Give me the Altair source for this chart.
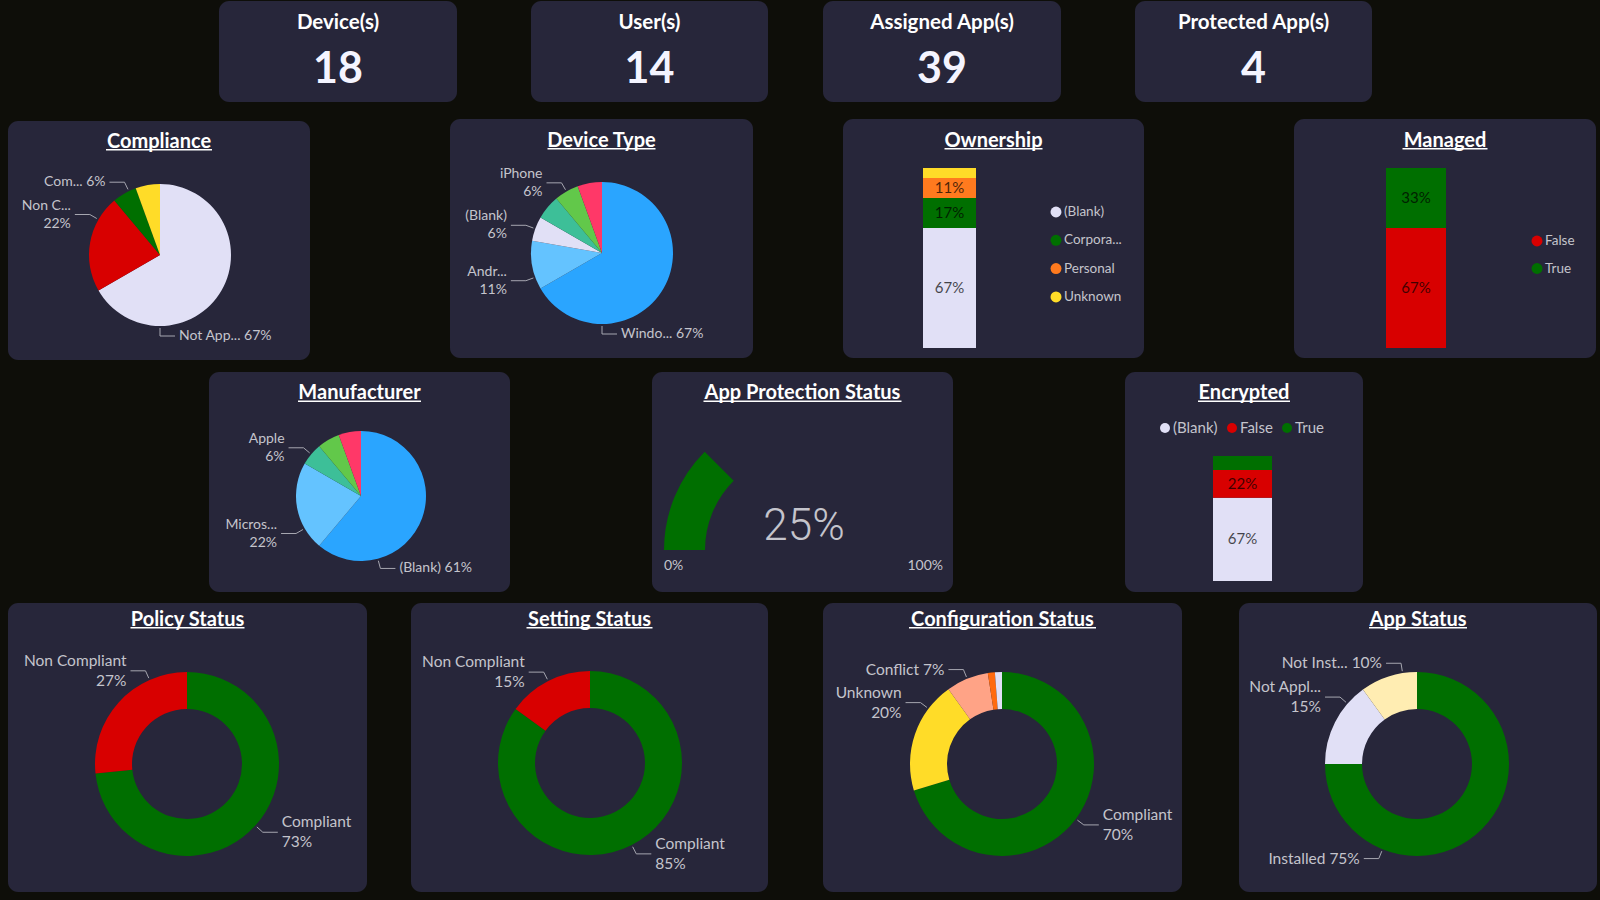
import math
import altair as alt
import pandas as pd

# ---------------------------------------------------------------- values
card_titles = ["Device(s)", "User(s)", "Assigned App(s)", "Protected App(s)"]
card_values = [18, 14, 39, 4]

compliance_states = ["Not Applicable", "Non Compliant", "Compliant", "In Grace Period"]
compliance_counts = [12, 4, 1, 1]
compliance_names = ["Not App...", "Non C...", "Com...", None]

device_types = ["Windows", "Android", "(Blank)", "iPad", "iPhone", "macOS"]
device_type_counts = [12, 2, 1, 1, 1, 1]
device_type_names = ["Windo...", "Andr...", "(Blank)", None, "iPhone", None]

manufacturers = ["(Blank)", "Microsoft", "Apple", "Samsung", "Google"]
manufacturer_counts = [11, 4, 1, 1, 1]
manufacturer_names = ["(Blank)", "Micros...", "Apple", None, None]

ownership_types = ["(Blank)", "Corporate", "Personal", "Unknown"]
ownership_counts = [12, 3, 2, 1]
ownership_names = ["(Blank)", "Corpora...", "Personal", "Unknown"]

managed_states = ["False", "True"]
managed_counts = [12, 6]

encrypted_states = ["(Blank)", "False", "True"]
encrypted_counts = [12, 4, 2]

app_protection_pct = 25

policy_states = ["Compliant", "Non Compliant"]
policy_counts = [11, 4]
policy_names = ["Compliant", "Non Compliant"]

setting_states = ["Compliant", "Non Compliant"]
setting_counts = [17, 3]
setting_names = ["Compliant", "Non Compliant"]

config_states = ["Compliant", "Unknown", "Conflict", "Error", "Not Applicable"]
config_counts = [57, 16, 6, 1, 1]
config_names = ["Compliant", "Unknown", "Conflict", None, None]

app_states = ["Installed", "Not Applicable", "Not Installed"]
app_counts = [15, 3, 2]
app_names = ["Installed", "Not Appl...", "Not Inst..."]

# ---------------------------------------------------------------- styling
FONT = "Lato"
BG = "#0e0e09"
PANEL = "#27263a"
WHITE = "#ffffff"
SOFT = "#c4c4cc"
LEADER = "#a6a6b0"

LAVENDER = "#e1e0f6"
RED = "#d80000"
GREEN = "#006f00"
YELLOW = "#ffdc28"
ORANGE = "#ff7a1e"
BLUE = "#2aa5ff"
LIGHT_BLUE = "#64c3ff"
TEAL = "#3dbf98"
LIGHT_GREEN = "#62c84a"
PINK = "#ff3868"
SALMON = "#ffa386"
DEEP_ORANGE = "#ff6a10"
CREAM = "#ffedb2"

compliance_colors = [LAVENDER, RED, GREEN, YELLOW]
device_type_colors = [BLUE, LIGHT_BLUE, LAVENDER, TEAL, LIGHT_GREEN, PINK]
manufacturer_colors = [BLUE, LIGHT_BLUE, TEAL, LIGHT_GREEN, PINK]
ownership_colors = [LAVENDER, GREEN, ORANGE, YELLOW]
managed_colors = [RED, GREEN]
encrypted_colors = [LAVENDER, RED, GREEN]
status_colors = [GREEN, RED]
config_colors = [GREEN, YELLOW, SALMON, DEEP_ORANGE, LAVENDER]
app_colors = [GREEN, LAVENDER, CREAM]

# ---------------------------------------------------------------- layout (canvas pixels)
card_boxes = [(219, 1, 457, 102), (531, 1, 768, 102), (823, 1, 1061, 102), (1135, 1, 1372, 102)]

panel_specs = [
    # title, box, title baseline, underline width
    ("Compliance", (8, 121, 310, 360), 147.5, 106),
    ("Device Type", (450, 119, 753, 358), 146.5, 108),
    ("Ownership", (843, 119, 1144, 358), 146.5, 98),
    ("Managed", (1294, 119, 1596, 358), 146.5, 85),
    ("Manufacturer", (209, 372, 510, 592), 399, 123),
    ("App Protection Status", (652, 372, 953, 592), 399, 198),
    ("Encrypted", (1125, 372, 1363, 592), 399, 92),
    ("Policy Status", (8, 603, 367, 892), 625.5, 114),
    ("Setting Status", (411, 603, 768, 892), 625.5, 126),
    ("Configuration Status", (823, 603, 1182, 892), 625.5, 187),
    ("App Status", (1239, 603, 1597, 892), 625.5, 98),
]

PIE_LABEL = dict(size=14, line=18)
DONUT_LABEL = dict(size=15.5, line=20)

XS = alt.Scale(domain=[0, 1600], range=[0, 1600], nice=False, zero=False)
YS = alt.Scale(domain=[0, 900], range=[0, 900], nice=False, zero=False)


def X(f):
    return alt.X(f"{f}:Q", scale=XS, axis=None)


def Y(f):
    return alt.Y(f"{f}:Q", scale=YS, axis=None)


# ---------------------------------------------------------------- panels and headings
panel_rows = [dict(x0=b[0], y0=b[1], x1=b[2], y1=b[3]) for b in card_boxes]
panel_rows += [dict(x0=b[0], y0=b[1], x1=b[2], y1=b[3]) for _, b, _, _ in panel_specs]
panels = alt.Chart(pd.DataFrame(panel_rows)).mark_rect(cornerRadius=10, color=PANEL).encode(
    x=X("x0"), x2=alt.X2("x1:Q"), y=Y("y0"), y2=alt.Y2("y1:Q"))

card_df = pd.DataFrame({
    "title": card_titles,
    "value": card_values,
    "cx": [(b[0] + b[2]) / 2 for b in card_boxes],
    "ty": 29,
    "vy": 82.5,
})
card_title = alt.Chart(card_df).mark_text(
    font=FONT, fontSize=20.5, fontWeight="bold", color=WHITE, align="center", baseline="alphabetic"
).encode(x=X("cx"), y=Y("ty"), text="title:N")
card_value = alt.Chart(card_df).mark_text(
    font=FONT, fontSize=43, fontWeight="bold", color="#f4f4ff", align="center", baseline="alphabetic"
).encode(x=X("cx"), y=Y("vy"), text="value:Q")

title_df = pd.DataFrame([
    dict(title=t, cx=(b[0] + b[2]) / 2, y=base, ux0=(b[0] + b[2]) / 2 - w / 2,
         ux1=(b[0] + b[2]) / 2 + w / 2, uy=base + 2.2)
    for t, b, base, w in panel_specs
])
titles = alt.Chart(title_df).mark_text(
    font=FONT, fontSize=20, fontWeight="bold", color=WHITE, align="center", baseline="alphabetic"
).encode(x=X("cx"), y=Y("y"), text="title:N")
underlines = alt.Chart(title_df).mark_rule(color=WHITE, strokeWidth=1.6).encode(
    x=X("ux0"), x2=alt.X2("ux1:Q"), y=Y("uy"))

# ---------------------------------------------------------------- pies and donuts
arc_layers = []
leader_rows = []
label_rows = []


def add_pie(states, counts, names, colors, cx, cy, R, r, style, wrap, angles):
    total = sum(counts)
    rows = []
    cum = 0
    for i, (s, v, col) in enumerate(zip(states, counts, colors)):
        t0 = cum / total
        cum += v
        t1 = cum / total
        rows.append(dict(state=s, value=v, cx=cx, cy=cy, t0=t0, t1=t1, color=col))
        name = names[i]
        if name is None:
            continue
        pct = f"{round(100 * v / total)}%"
        a = math.radians(angles.get(s, 180 * (t0 + t1)))
        sx, sy = math.sin(a), -math.cos(a)
        side = 1 if sx > -1e-9 else -1
        p0 = (cx + (R + 2) * sx, cy + (R + 2) * sy)
        p1 = (cx + (R + 10) * sx, cy + (R + 10) * sy)
        p2 = (p1[0] + 15 * side, p1[1])
        leader_rows.append(dict(x0=p0[0], y0=p0[1], x1=p1[0], y1=p1[1]))
        leader_rows.append(dict(x0=p1[0], y0=p1[1], x1=p2[0], y1=p2[1]))
        tx = p2[0] + 4 * side
        align = "left" if side > 0 else "right"
        if s in wrap:
            lines = [(name, p1[1] - style["line"] / 2), (pct, p1[1] + style["line"] / 2)]
        else:
            lines = [(f"{name} {pct}", p1[1])]
        for txt, ty in lines:
            label_rows.append(dict(x=tx, y=ty, text=txt, size=style["size"], align=align))
    arc_layers.append(
        alt.Chart(pd.DataFrame(rows)).mark_arc(outerRadius=R, innerRadius=r).encode(
            x=X("cx"), y=Y("cy"),
            theta=alt.Theta("t0:Q", stack=None, scale=alt.Scale(domain=[0, 1], range=[0, 2 * math.pi])),
            theta2=alt.Theta2("t1:Q"),
            color=alt.Color("color:N", scale=None),
        )
    )


add_pie(compliance_states, compliance_counts, compliance_names, compliance_colors,
        160, 255, 71, 0, PIE_LABEL, {"Non Compliant"},
        {"Not Applicable": 180, "Non Compliant": 300, "Compliant": 334})
add_pie(device_types, device_type_counts, device_type_names, device_type_colors,
        602, 253, 71, 0, PIE_LABEL, {"Android", "(Blank)", "iPhone"},
        {"Windows": 180, "Android": 250})
add_pie(manufacturers, manufacturer_counts, manufacturer_names, manufacturer_colors,
        361, 496, 65, 0, PIE_LABEL, {"Microsoft", "Apple"},
        {"(Blank)": 165, "Microsoft": 240})
add_pie(policy_states, policy_counts, policy_names, status_colors,
        187, 764, 92, 55, DONUT_LABEL, {"Compliant", "Non Compliant"},
        {"Non Compliant": 336})
add_pie(setting_states, setting_counts, setting_names, status_colors,
        590, 763, 92, 55, DONUT_LABEL, {"Compliant", "Non Compliant"}, {})
add_pie(config_states, config_counts, config_names, config_colors,
        1002, 764, 92, 55, DONUT_LABEL, {"Compliant", "Unknown"},
        {"Unknown": 307})
add_pie(app_states, app_counts, app_names, app_colors,
        1417, 764, 92, 55, DONUT_LABEL, {"Not Applicable"},
        {"Installed": 202, "Not Applicable": 311, "Not Installed": 351})

leaders = alt.Chart(pd.DataFrame(leader_rows)).mark_rule(color=LEADER, strokeWidth=1).encode(
    x=X("x0"), y=Y("y0"), x2=alt.X2("x1:Q"), y2=alt.Y2("y1:Q"))

label_df = pd.DataFrame(label_rows)
label_layers = [
    alt.Chart(label_df[label_df["align"] == al]).mark_text(
        font=FONT, color=SOFT, align=al, baseline="middle"
    ).encode(x=X("x"), y=Y("y"), text="text:N", size=alt.Size("size:Q", scale=None))
    for al in ["left", "right"]
]

# ---------------------------------------------------------------- gauge
gauge_df = pd.DataFrame([dict(cx=803, cy=550, t0=0, t1=app_protection_pct, color=GREEN)])
gauge = alt.Chart(gauge_df).mark_arc(outerRadius=139, innerRadius=98).encode(
    x=X("cx"), y=Y("cy"),
    theta=alt.Theta("t0:Q", stack=None,
                    scale=alt.Scale(domain=[0, 100], range=[1.5 * math.pi, 2.5 * math.pi])),
    theta2=alt.Theta2("t1:Q"),
    color=alt.Color("color:N", scale=None),
)
gauge_value = alt.Chart(pd.DataFrame([dict(x=804, y=540, text=f"{app_protection_pct}%")])).mark_text(
    font="Roboto", fontWeight=300, fontSize=44, color=SOFT, align="center", baseline="alphabetic"
).encode(x=X("x"), y=Y("y"), text="text:N")
gauge_ends = alt.Chart(pd.DataFrame([dict(x=664, y=570, text="0%")])).mark_text(
    font=FONT, fontSize=14, color=SOFT, align="left", baseline="alphabetic").encode(
    x=X("x"), y=Y("y"), text="text:N")
gauge_max = alt.Chart(pd.DataFrame([dict(x=943, y=570, text="100%")])).mark_text(
    font=FONT, fontSize=14, color=SOFT, align="right", baseline="alphabetic").encode(
    x=X("x"), y=Y("y"), text="text:N")

# ---------------------------------------------------------------- stacked columns
bar_rows = []
bar_label_rows = []


def add_bar(counts, colors, x0, x1, top, bottom):
    total = sum(counts)
    h = bottom - top
    cum = 0
    for v, col in zip(counts, colors):
        yb = bottom - cum / total * h
        cum += v
        yt = bottom - cum / total * h
        bar_rows.append(dict(x0=x0, x1=x1, y0=yt, y1=yb, color=col))
        if yb - yt >= 16:
            bar_label_rows.append(dict(x=(x0 + x1) / 2, y=(yt + yb) / 2, text=f"{round(100 * v / total)}%"))


add_bar(ownership_counts, ownership_colors, 923, 976, 168, 348)
add_bar(managed_counts, managed_colors, 1386, 1446, 168, 348)
add_bar(encrypted_counts, encrypted_colors, 1213, 1272, 456, 581)

bars = alt.Chart(pd.DataFrame(bar_rows)).mark_rect().encode(
    x=X("x0"), x2=alt.X2("x1:Q"), y=Y("y0"), y2=alt.Y2("y1:Q"), color=alt.Color("color:N", scale=None))
bar_labels = alt.Chart(pd.DataFrame(bar_label_rows)).mark_text(
    font=FONT, fontSize=15, color="#000000", opacity=0.7, align="center", baseline="middle"
).encode(x=X("x"), y=Y("y"), text="text:N")

# ---------------------------------------------------------------- legends
dot_rows = []
legend_text_rows = []
for i, (name, col) in enumerate(zip(ownership_names, ownership_colors)):
    y = 212 + 28.3 * i
    dot_rows.append(dict(x=1056, y=y, color=col, size=120))
    legend_text_rows.append(dict(x=1064, y=y, text=name, size=13.5))
for i, (name, col) in enumerate(zip(managed_states, managed_colors)):
    y = 241 + 27.5 * i
    dot_rows.append(dict(x=1537, y=y, color=col, size=120))
    legend_text_rows.append(dict(x=1545, y=y, text=name, size=13.5))
for name, col, x in zip(encrypted_states, encrypted_colors, [1165, 1232, 1287]):
    dot_rows.append(dict(x=x, y=428, color=col, size=100))
    legend_text_rows.append(dict(x=x + 8, y=428, text=name, size=15))

legend_dots = alt.Chart(pd.DataFrame(dot_rows)).mark_circle(opacity=1).encode(
    x=X("x"), y=Y("y"), color=alt.Color("color:N", scale=None), size=alt.Size("size:Q", scale=None))
legend_texts = alt.Chart(pd.DataFrame(legend_text_rows)).mark_text(
    font=FONT, color=SOFT, align="left", baseline="middle"
).encode(x=X("x"), y=Y("y"), text="text:N", size=alt.Size("size:Q", scale=None))

# ---------------------------------------------------------------- assemble
chart = (
    alt.layer(
        panels, card_title, card_value, titles, underlines,
        *arc_layers, gauge, leaders, *label_layers,
        bars, bar_labels, legend_dots, legend_texts,
        gauge_value, gauge_ends, gauge_max,
    )
    .resolve_scale(theta="independent")
    .properties(width=1600, height=900, padding=0, autosize=alt.AutoSizeParams(type="none"))
    .configure(background=BG)
    .configure_view(stroke=None)
)

chart.save("out.html", embed_options={"renderer": "svg", "actions": False})
